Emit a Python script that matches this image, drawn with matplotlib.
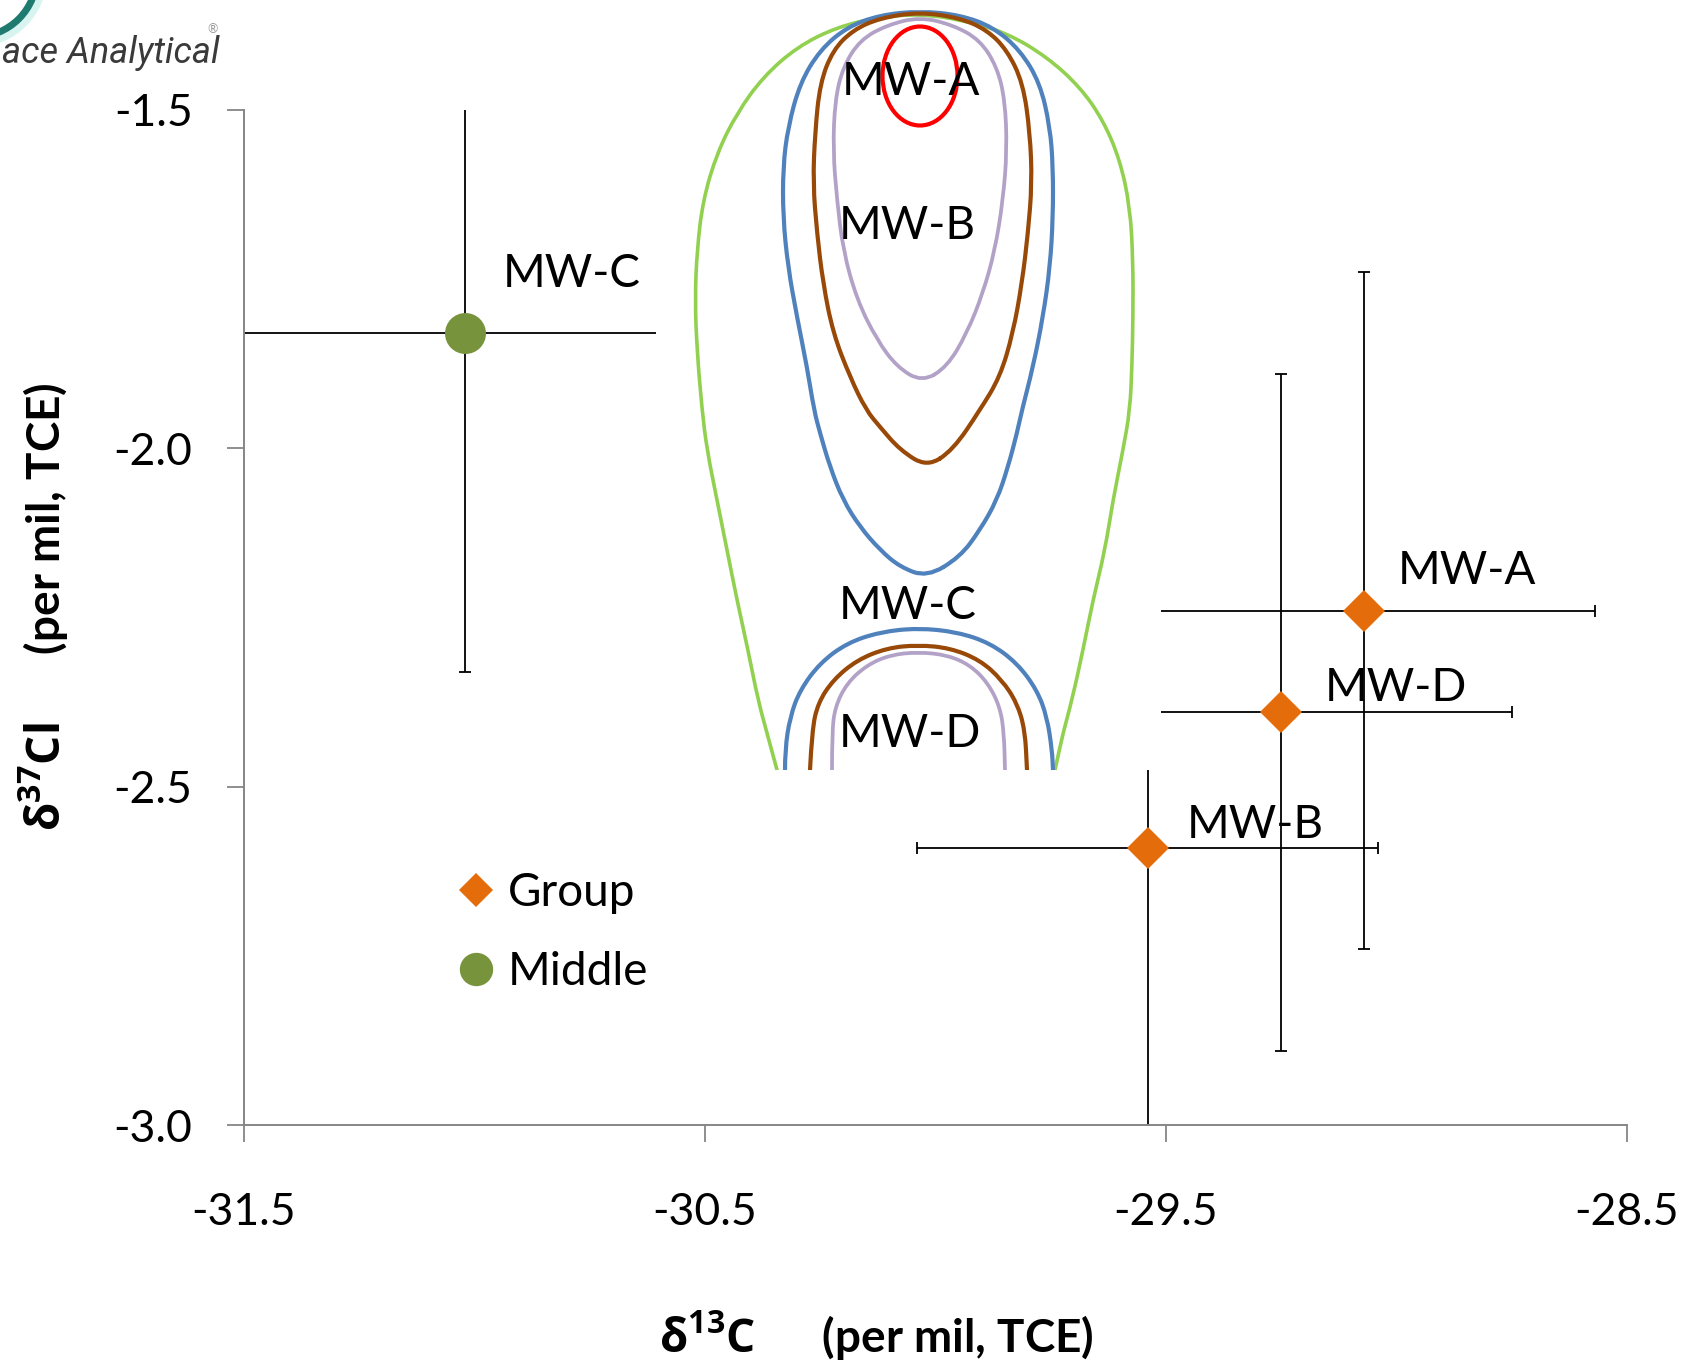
import matplotlib
matplotlib.use('Agg')
import matplotlib.pyplot as plt
from matplotlib.lines import Line2D
from matplotlib.path import Path
from matplotlib.patches import PathPatch, Ellipse, Circle

plt.rcParams['font.family'] = ['Lato', 'DejaVu Sans']
plt.rcParams['mathtext.fontset'] = 'custom'
plt.rcParams['mathtext.rm'] = 'Lato'
plt.rcParams['mathtext.bf'] = 'Open Sans:bold'

# ── data ──────────────────────────────────────────────────────────────────────
group_names = ['MW-A', 'MW-D', 'MW-B']
group_d13c = [-29.07, -29.25, -29.54]
group_d37cl = [-2.24, -2.39, -2.59]

middle_names = ['MW-C']
middle_d13c = [-31.02]
middle_d37cl = [-1.83]

err_d13c = 0.5
err_d37cl = 0.5

x_ticks = [-31.5, -30.5, -29.5, -28.5]
y_ticks = [-3.0, -2.5, -2.0, -1.5]

# label offsets (points) from each marker
group_offsets = [(24, 19), (31, 8), (28, 7)]
middle_offsets = [(27, 33)]

# ── inset contour sketch, traced in image pixels ──────────────────────────────
green_x = [777, 767, 758, 748, 737, 727, 717, 707, 702, 697, 695, 697, 703, 717, 737, 763, 797, 837, 880, 920,
           963, 1007, 1047, 1080, 1103, 1120, 1130, 1133, 1133, 1132, 1130, 1123, 1113, 1105, 1093, 1083, 1072, 1063, 1055]
green_y = [770, 733, 700, 650, 600, 550, 500, 450, 410, 350, 300, 250, 200, 153, 113, 77, 47, 27, 17, 14,
           20, 33, 57, 87, 120, 160, 207, 260, 317, 365, 410, 450, 500, 550, 600, 650, 700, 733, 770]

blue_up_x = [927, 900, 880, 860, 843, 830, 820, 814, 807, 797, 788, 783, 783, 788, 800, 820, 847, 880, 920,
             960, 993, 1020, 1040, 1050, 1053, 1053, 1050, 1043, 1033, 1022, 1017, 1008, 997, 980, 960]
blue_up_y = [577, 567, 550, 527, 500, 467, 433, 410, 367, 317, 267, 217, 167, 127, 83, 50, 27, 15, 11,
             15, 27, 50, 83, 127, 167, 217, 267, 317, 367, 410, 433, 467, 500, 530, 557]

brown_up_x = [927, 900, 880, 866, 850, 833, 823, 817, 813, 815, 820, 833, 853, 880, 920,
              960, 987, 1007, 1023, 1030, 1032, 1028, 1022, 1013, 1000, 980, 953]
brown_up_y = [467, 450, 427, 410, 377, 333, 283, 233, 183, 133, 83, 50, 30, 18, 12,
              18, 30, 50, 83, 133, 183, 233, 283, 333, 377, 410, 450]

purple_up_x = [922, 897, 877, 857, 843, 837, 833, 835, 843, 860, 887, 920,
               953, 980, 997, 1005, 1007, 1003, 995, 983, 967, 947]
purple_up_y = [382, 367, 340, 300, 250, 200, 150, 100, 67, 40, 25, 17,
               25, 40, 67, 100, 150, 200, 250, 293, 333, 367]

blue_lo_x = [785, 785, 790, 800, 820, 847, 880, 918, 957, 990, 1017, 1037, 1047, 1052, 1053]
blue_lo_y = [770, 750, 717, 690, 663, 643, 632, 628, 632, 643, 663, 690, 717, 750, 770]

brown_lo_x = [810, 812, 818, 833, 857, 887, 918, 950, 980, 1002, 1017, 1025, 1027]
brown_lo_y = [770, 730, 703, 680, 660, 648, 645, 648, 660, 680, 703, 730, 770]

purple_lo_x = [832, 832, 835, 847, 867, 890, 918, 947, 970, 988, 1000, 1004, 1005]
purple_lo_y = [770, 733, 707, 683, 665, 655, 652, 655, 665, 683, 707, 733, 770]

inset_labels = ['MW-A', 'MW-B', 'MW-C', 'MW-D']
inset_label_x = [842, 839, 839, 839]
inset_label_y = [95, 239, 619, 747]

ORANGE = '#E46C0A'
OLIVE = '#77933C'
AXIS_GREY = '#868686'


def smooth_path(xs, ys, closed=False):
    """quadratic bezier through midpoints -> smooth outline"""
    pts = list(zip(xs, ys))
    n = len(pts)
    mid = lambda a, b: ((a[0] + b[0]) / 2, (a[1] + b[1]) / 2)
    if closed:
        verts = [mid(pts[-1], pts[0])]
        codes = [Path.MOVETO]
        for i in range(n):
            verts += [pts[i], mid(pts[i], pts[(i + 1) % n])]
            codes += [Path.CURVE3, Path.CURVE3]
        return Path(verts, codes)
    verts = [pts[0]]
    codes = [Path.MOVETO]
    for i in range(1, n - 1):
        verts += [pts[i], mid(pts[i], pts[i + 1])]
        codes += [Path.CURVE3, Path.CURVE3]
    verts.append(pts[-1])
    codes.append(Path.LINETO)
    return Path(verts, codes)


W, H = 1694, 1369
fig = plt.figure(figsize=(W / 100, H / 100), dpi=100)

# background layer for the logo fragment
bg = fig.add_axes([0, 0, 1, 1], zorder=-1)
bg.set_xlim(0, W)
bg.set_ylim(H, 0)
bg.axis('off')
bg.add_patch(Circle((-25, -25), 66, fill=False, lw=9, color='#BFEDE8', alpha=0.6))
bg.add_patch(Circle((-25, -25), 62, fill=False, lw=5, color='#1F7A70'))
bg.text(2, 63, 'ace Analytical', ha='left', va='baseline', fontsize=26,
        style='italic', color='#3A3A3A', family=['Liberation Sans Narrow', 'Roboto', 'DejaVu Sans'])
bg.text(213, 29, '®', ha='center', va='center', fontsize=9, color='#999999')

# ── main scatter ──────────────────────────────────────────────────────────────
ax = fig.add_axes([244 / W, 1 - 1125 / H, (1627 - 244) / W, (1125 - 110) / H])
ax.set_facecolor('none')

ax.errorbar(group_d13c, group_d37cl, xerr=err_d13c, yerr=err_d37cl, fmt='none',
            ecolor='black', elinewidth=1.3, capsize=4.5, capthick=1.3, zorder=2)
ax.errorbar(middle_d13c, middle_d37cl, xerr=err_d13c, yerr=err_d37cl, fmt='none',
            ecolor='black', elinewidth=1.3, capsize=4.5, capthick=1.3, zorder=2)
ax.plot(group_d13c, group_d37cl, ls='none', marker='D', ms=21, color=ORANGE, mew=0, zorder=3)
ax.plot(middle_d13c, middle_d37cl, ls='none', marker='o', ms=29.5, color=OLIVE, mew=0, zorder=3)

for name, x, y, off in zip(group_names, group_d13c, group_d37cl, group_offsets):
    ax.annotate(name, (x, y), xytext=off, textcoords='offset points',
                ha='left', va='baseline', fontsize=33)
for name, x, y, off in zip(middle_names, middle_d13c, middle_d37cl, middle_offsets):
    ax.annotate(name, (x, y), xytext=off, textcoords='offset points',
                ha='left', va='baseline', fontsize=33)

ax.set_xlim(-31.5, -28.5)
ax.set_ylim(-3.0, -1.5)
ax.set_xticks(x_ticks)
ax.set_yticks(y_ticks)
ax.set_xticklabels([f'{t:.1f}' for t in x_ticks])
ax.set_yticklabels([f'{t:.1f}' for t in y_ticks])
for s in ['top', 'right']:
    ax.spines[s].set_visible(False)
for s in ['left', 'bottom']:
    ax.spines[s].set_color(AXIS_GREY)
    ax.spines[s].set_linewidth(1.4)
ax.tick_params(direction='out', length=12, width=1.3, color=AXIS_GREY, labelsize=32)
ax.tick_params(axis='x', pad=36)
ax.tick_params(axis='y', pad=25)

handles = [Line2D([], [], ls='none', marker='D', ms=17, color=ORANGE, mew=0),
           Line2D([], [], ls='none', marker='o', ms=24, color=OLIVE, mew=0)]
fig.legend(handles, ['Group', 'Middle'], loc='upper left',
           bbox_to_anchor=(460 / W, 1 - 872 / H), frameon=False, fontsize=33,
           handlelength=0.7, handletextpad=0.35, labelspacing=0.8,
           borderpad=0, borderaxespad=0)

fig.text(876 / W, 1 - 1335 / H, r'$\mathbf{δ^{13}C}$      (per mil, TCE)',
         ha='center', va='center', fontsize=33, fontweight='bold')
fig.text(43 / W, 1 - 607 / H, r'$\mathbf{δ^{37}Cl}$      (per mil, TCE)',
         ha='center', va='center', rotation=90, fontsize=33, fontweight='bold')

# ── inset picture (opaque, sits over the chart) ───────────────────────────────
ins = fig.add_axes([656 / W, 1 - 770 / H, (1161 - 656) / W, 770 / H])
ins.set_xlim(656, 1161)
ins.set_ylim(770, 0)
ins.set_facecolor('white')
ins.set_xticks([])
ins.set_yticks([])
for s in ins.spines.values():
    s.set_visible(False)

curves = [
    (green_x, green_y, '#92D050', 2.6, False),
    (blue_up_x, blue_up_y, '#4F81BD', 3.0, True),
    (brown_up_x, brown_up_y, '#984807', 3.0, True),
    (purple_up_x, purple_up_y, '#B3A2C7', 2.7, True),
    (blue_lo_x, blue_lo_y, '#4F81BD', 3.0, False),
    (brown_lo_x, brown_lo_y, '#984807', 3.0, False),
    (purple_lo_x, purple_lo_y, '#B3A2C7', 2.7, False),
]
for xs, ys, col, lw, closed in curves:
    ins.add_patch(PathPatch(smooth_path(xs, ys, closed), fill=False, edgecolor=col, lw=lw,
                            joinstyle='round', capstyle='round'))
ins.add_patch(Ellipse((920, 76), 75, 99, fill=False, edgecolor='#FF0000', lw=3.0))

for txt, x, y in zip(inset_labels, inset_label_x, inset_label_y):
    ins.text(x, y, txt, ha='left', va='baseline', fontsize=33)

fig.savefig('out.png', dpi=100)
